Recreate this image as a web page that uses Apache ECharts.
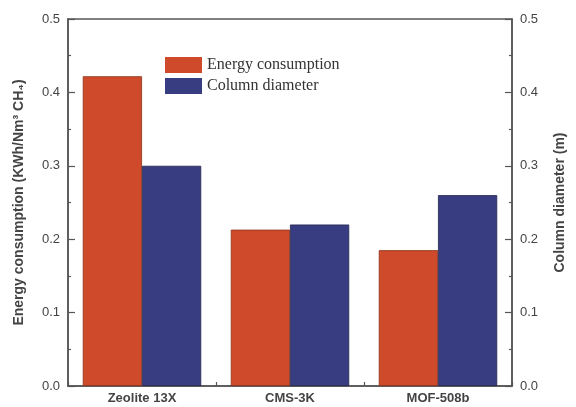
<!DOCTYPE html>
<html>
<head>
<meta charset="utf-8">
<script src="https://cdn.jsdelivr.net/npm/echarts@6/dist/echarts.min.js"></script>
<style>html,body{margin:0;padding:0;background:#fff;}#main{width:576px;height:407px;}</style>
</head>
<body>
<div id="main"></div>
<script>
var categories = ['Zeolite 13X', 'CMS-3K', 'MOF-508b'];
var energyConsumption = [0.422, 0.213, 0.185];
var columnDiameter = [0.30, 0.22, 0.26];
var yTicks = [0, 0.1, 0.2, 0.3, 0.4, 0.5];

var axisColor = '#555';
var textColor = '#444';
var chart = echarts.init(document.getElementById('main'));
function yAxis(pos, name, gap) {
  return {
    type: 'value', position: pos, min: 0, max: 0.5, interval: 0.1,
    name: name, nameLocation: 'middle', nameGap: gap, nameRotate: 90,
    nameTextStyle: { fontFamily: 'Liberation Sans', fontWeight: 'bold', fontSize: 14, color: textColor },
    axisLine: { show: true, lineStyle: { color: axisColor, width: 1.5 } },
    axisTick: { show: true, inside: true, length: 7, lineStyle: { color: axisColor, width: 1.2 } },
    minorTick: { show: true, splitNumber: 2, length: 3, lineStyle: { color: axisColor, width: 1.2 } },
    axisLabel: { margin: 8, fontFamily: 'Liberation Sans', fontSize: 13, color: textColor,
      formatter: function (v) { return v.toFixed(1); } },
    splitLine: { show: false }
  };
}
chart.setOption({
  animation: false,
  backgroundColor: '#fff',
  grid: { left: 68, right: 64, top: 19, bottom: 21, show: true, borderColor: axisColor, borderWidth: 1.5 },
  legend: {
    left: 165, top: 57, padding: 0, orient: 'vertical', itemWidth: 37, itemHeight: 16, itemGap: 5,
    icon: 'rect',
    itemStyle: { borderWidth: 0 },
    textStyle: { fontFamily: 'Liberation Serif', fontSize: 16, color: '#333' },
    data: ['Energy consumption', 'Column diameter']
  },
  xAxis: {
    type: 'category', data: categories,
    axisLine: { show: true, lineStyle: { color: axisColor, width: 1.5 } },
    axisTick: { show: true, inside: true, length: 4, lineStyle: { color: axisColor, width: 1.2 } },
    axisLabel: { margin: 6, fontFamily: 'Liberation Sans', fontWeight: 'bold', fontSize: 13, color: textColor }
  },
  yAxis: [
    yAxis('left', 'Energy consumption (KWh/Nm\u00B3 CH\u2084)', 42),
    yAxis('right', 'Column diameter (m)', 41)
  ],
  series: [
    { name: 'Energy consumption', type: 'bar', yAxisIndex: 0, data: energyConsumption,
      barGap: '0%', barCategoryGap: '20%',
      itemStyle: { color: '#cf4a2b', borderColor: '#8a3018', borderWidth: 0.8 } },
    { name: 'Column diameter', type: 'bar', yAxisIndex: 1, data: columnDiameter,
      barGap: '0%', barCategoryGap: '20%',
      itemStyle: { color: '#383d82', borderColor: '#23264f', borderWidth: 0.8 } }
  ]
});
</script>
</body>
</html>
